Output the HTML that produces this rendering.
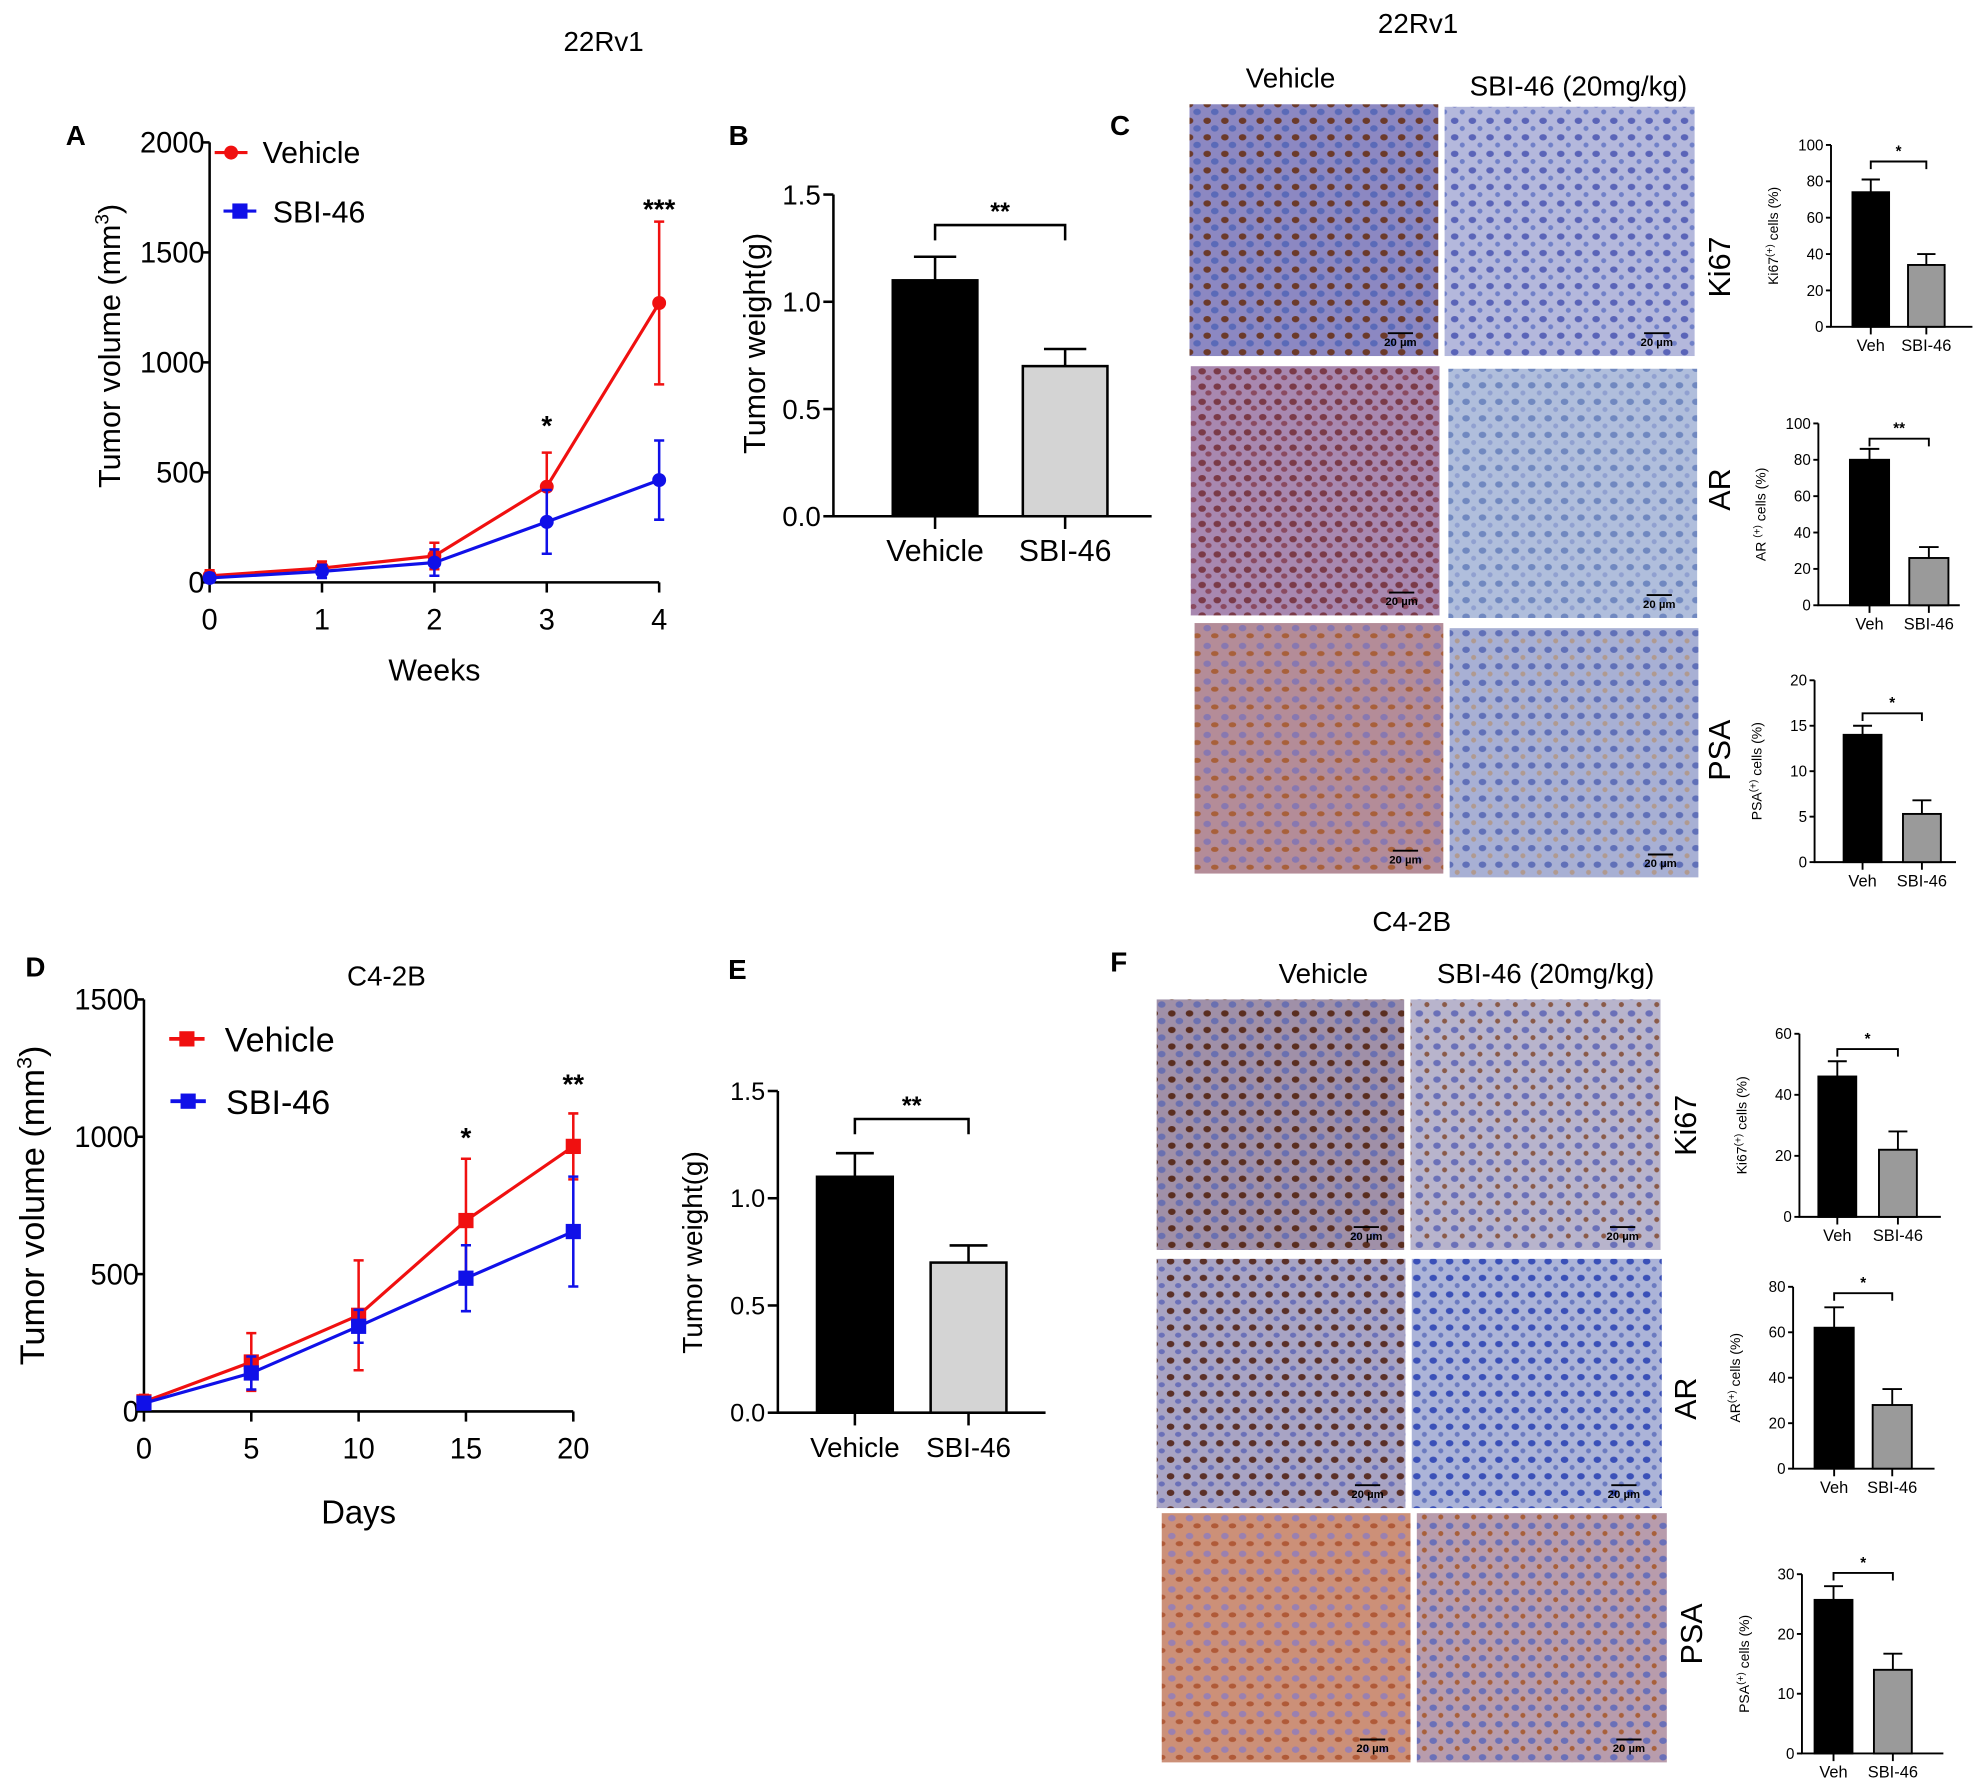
<!DOCTYPE html>
<html><head><meta charset="utf-8"><style>
html,body{margin:0;padding:0;background:#fff}
svg{display:block;font-family:"Liberation Sans",sans-serif}
</style></head><body>
<svg id="fig" width="1980" height="1784" viewBox="0 0 1568 1403" preserveAspectRatio="none" xmlns="http://www.w3.org/2000/svg">
<defs>
<pattern id="pKiV" width="14" height="13" patternUnits="userSpaceOnUse"><rect width="14" height="13" fill="#8c88c2"/><ellipse cx="4" cy="4" rx="3" ry="2.5" fill="#6b3a2a"/><ellipse cx="10" cy="10" rx="3" ry="2.5" fill="#5a6ab8"/></pattern>
<pattern id="pKiS" width="14" height="13" patternUnits="userSpaceOnUse"><rect width="14" height="13" fill="#b4b8dc"/><ellipse cx="4" cy="4" rx="3" ry="2.5" fill="#5a64b8"/><ellipse cx="10" cy="10" rx="2" ry="2" fill="#7080c8"/></pattern>
<pattern id="pArV" width="12" height="12" patternUnits="userSpaceOnUse"><rect width="12" height="12" fill="#a888b0"/><ellipse cx="4" cy="4" rx="3" ry="2.5" fill="#7a3a48"/><ellipse cx="9" cy="9" rx="2.5" ry="2" fill="#8a4a60"/></pattern>
<pattern id="pArS" width="13" height="13" patternUnits="userSpaceOnUse"><rect width="13" height="13" fill="#b0bedc"/><ellipse cx="4" cy="4" rx="3" ry="2.5" fill="#7088c0"/><ellipse cx="10" cy="10" rx="2" ry="2" fill="#90a0d0"/></pattern>
<pattern id="pPsV" width="14" height="14" patternUnits="userSpaceOnUse"><rect width="14" height="14" fill="#b48c98"/><ellipse cx="4" cy="4" rx="3" ry="2.5" fill="#8878b0"/><ellipse cx="10" cy="10" rx="3" ry="2" fill="#a8603a"/></pattern>
<pattern id="pPsS" width="13" height="13" patternUnits="userSpaceOnUse"><rect width="13" height="13" fill="#a8b0d4"/><ellipse cx="4" cy="4" rx="3" ry="2.5" fill="#6070b8"/><ellipse cx="10" cy="10" rx="2" ry="2" fill="#b09a90"/></pattern>
<pattern id="pKiV2" width="14" height="13" patternUnits="userSpaceOnUse"><rect width="14" height="13" fill="#a090a8"/><ellipse cx="4" cy="4" rx="3" ry="2.5" fill="#5a2e20"/><ellipse cx="10" cy="10" rx="3" ry="2.5" fill="#6a70b0"/></pattern>
<pattern id="pKiS2" width="14" height="13" patternUnits="userSpaceOnUse"><rect width="14" height="13" fill="#b8b4cc"/><ellipse cx="4" cy="4" rx="3" ry="2.5" fill="#6a70b8"/><ellipse cx="10" cy="10" rx="2" ry="2" fill="#8a5a48"/></pattern>
<pattern id="pArV2" width="13" height="13" patternUnits="userSpaceOnUse"><rect width="13" height="13" fill="#a8a4c4"/><ellipse cx="4" cy="4" rx="3" ry="2.5" fill="#5a3028"/><ellipse cx="10" cy="10" rx="2.5" ry="2" fill="#6a70b8"/></pattern>
<pattern id="pArS2" width="13" height="13" patternUnits="userSpaceOnUse"><rect width="13" height="13" fill="#acb4d8"/><ellipse cx="4" cy="4" rx="3" ry="2.5" fill="#3a50b8"/><ellipse cx="10" cy="10" rx="2" ry="2" fill="#6a7ac0"/></pattern>
<pattern id="pPsV2" width="14" height="14" patternUnits="userSpaceOnUse"><rect width="14" height="14" fill="#cc9078"/><ellipse cx="4" cy="4" rx="3" ry="2.5" fill="#9a80b0"/><ellipse cx="10" cy="10" rx="3" ry="2" fill="#b05a38"/></pattern>
<pattern id="pPsS2" width="13" height="13" patternUnits="userSpaceOnUse"><rect width="13" height="13" fill="#b89cac"/><ellipse cx="4" cy="4" rx="3" ry="2.5" fill="#6a70b8"/><ellipse cx="10" cy="10" rx="2" ry="2" fill="#a8603a"/></pattern>
</defs>
<g id="root"></g>
</svg>
<script>
// ---- Panel A data (22Rv1 tumor volume, weeks)
var weeksA = [0,1,2,3,4];
var vehA = [30,65,120,435,1270];
var vehAErr = [25,30,60,155,370];
var sbiA = [20,50,90,275,465];
var sbiAErr = [20,30,60,145,180];
var ticksAY = [0,500,1000,1500,2000];
// ---- Panel D data (C4-2B tumor volume, days)
var daysD = [0,5,10,15,20];
var vehD = [35,180,350,695,965];
var vehDErr = [25,105,200,225,120];
var sbiD = [30,140,310,485,655];
var sbiDErr = [20,60,60,120,200];
var ticksDY = [0,500,1000,1500];
// ---- Tumor weight bars
var weightCats = ["Vehicle","SBI-46"];
var weightB = [1.10,0.70];
var weightBErr = [0.11,0.08];
var weightE = [1.10,0.70];
var weightEErr = [0.11,0.08];
var ticksW = [0,0.5,1.0,1.5];
// ---- IHC quantification bars
var smallCats = ["Veh","SBI-46"];
var ki67C = [74,34], ki67CErr = [7,6];
var arC = [80,26], arCErr = [6,6];
var psaC = [14,5.3], psaCErr = [1,1.5];
var ki67F = [46,22], ki67FErr = [5,6];
var arF = [62,28], arFErr = [9,7];
var psaF = [25.7,14], psaFErr = [2.3,2.7];

var NS="http://www.w3.org/2000/svg";
var root=document.getElementById('root');
function mk(tag,attrs,parent,txt){var e=document.createElementNS(NS,tag);for(var k in attrs)e.setAttribute(k,attrs[k]);if(txt!==undefined)e.textContent=txt;(parent||root).appendChild(e);return e;}
function lin(d0,d1,r0,r1){return function(v){return r0+(v-d0)*(r1-r0)/(d1-d0);};}

function text(x,y,s,size,name,extra){
  var a={x:x,y:y,'font-size':size,'text-anchor':'middle',fill:'#000'};
  for(var k in extra)a[k]=extra[k];
  var t=mk('text',a,root,s);
  
  
  return t;
}

function lineChart(o){
  var g=mk('g',{});
  
  
  var X=lin(o.xd[0],o.xd[1],o.x0,o.x1), Y=lin(0,o.ymax,o.y0,o.y1);
  var ax=mk('path',{d:'M'+o.x0+' '+o.y1+' V'+o.y0+' H'+X(o.xs[o.xs.length-1]),stroke:'#000','stroke-width':2,fill:'none'},g);
  
  
  o.yt.forEach(function(v){
    mk('line',{x1:o.x0-6,x2:o.x0,y1:Y(v),y2:Y(v),stroke:'#000','stroke-width':2},g);
    var t=mk('text',{x:o.x0-4,y:Y(v)+8,'font-size':23,'text-anchor':'end'},g,String(v));
    
    
  });
  o.xs.forEach(function(v){
    mk('line',{x1:X(v),x2:X(v),y1:o.y0,y2:o.y0+8,stroke:'#000','stroke-width':2},g);
    var t=mk('text',{x:X(v),y:o.y0+37,'font-size':23,'text-anchor':'middle'},g,String(v));
    
    
  });
  o.series.forEach(function(s){
    var sg=mk('g',{},g);
    
    
    var d='';
    s.v.forEach(function(v,i){d+=(i?'L':'M')+X(o.xs[i])+' '+Y(v);});
    mk('path',{d:d,stroke:s.c,'stroke-width':2.5,fill:'none'},sg);
    s.v.forEach(function(v,i){
      var x=X(o.xs[i]);
      var eb=mk('path',{d:'M'+x+' '+Y(v-s.e[i])+' V'+Y(v+s.e[i])+' M'+(x-4)+' '+Y(v+s.e[i])+' h8 M'+(x-4)+' '+Y(v-s.e[i])+' h8',stroke:s.c,'stroke-width':2},sg);
      
      
      var m;
      if(o.square){m=mk('rect',{x:x-6,y:Y(v)-6,width:12,height:12,fill:s.c},sg);}
      else{m=mk('circle',{cx:x,cy:Y(v),r:5.5,fill:s.c},sg);}
      
      
    });
  });
  return {X:X,Y:Y};
}

function barChart(o){
  var g=mk('g',{});
  
  
  var Y=lin(0,o.ymax,o.y0,o.y1);
  var sw=o.sw||2;
  var ax=mk('path',{d:'M'+o.x0+' '+o.y1+' V'+o.y0+' H'+o.xEnd,stroke:'#000','stroke-width':sw,fill:'none'},g);
  
  
  o.yt.forEach(function(v){
    mk('line',{x1:o.x0-(o.tk||6),x2:o.x0,y1:Y(v),y2:Y(v),stroke:'#000','stroke-width':sw},g);
    var t=mk('text',{x:o.x0-(o.tk||6)-2,y:Y(v)+o.fs*0.35,'font-size':o.fs,'text-anchor':'end'},g,o.fmt?o.fmt(v):String(v));
    
    
  });
  var cols=['#000',o.c2];
  o.v.forEach(function(v,i){
    var l=o.bx[i], w=o.bw, cx=l+w/2;
    var e=mk('path',{d:'M'+cx+' '+Y(v)+' V'+Y(v+o.e[i])+' M'+(cx-w*0.25)+' '+Y(v+o.e[i])+' h'+(w*0.5),stroke:'#000','stroke-width':sw},g);
    
    
    var b=mk('rect',{x:l,y:Y(v),width:w,height:o.y0-Y(v),fill:cols[i],stroke:'#000','stroke-width':sw},g);
    
    
    mk('line',{x1:cx,x2:cx,y1:o.y0,y2:o.y0+(o.tk||6)+2,stroke:'#000','stroke-width':sw},g);
    var t=mk('text',{x:cx,y:o.y0+o.lblDy,'font-size':o.lfs,'text-anchor':'middle'},g,o.cats[i]);
    
    
  });
  var bx1=o.bx[0]+o.bw/2, bx2=o.bx[1]+o.bw/2;
  var br=mk('path',{d:'M'+bx1+' '+(o.brY+o.brH)+' V'+o.brY+' H'+bx2+' V'+(o.brY+o.brH),stroke:'#000','stroke-width':sw,fill:'none'},g);
  
  
  var st=mk('text',{x:(bx1+bx2)/2,y:o.brY-4,'font-size':o.sfs,'font-weight':'bold','text-anchor':'middle'},g,o.star);
  
  
  var yt=mk('text',{x:0,y:0,'font-size':o.tfs,'text-anchor':'middle',transform:'translate('+o.tx+','+o.ty+') rotate(-90)'},g);
  
  
  yt.innerHTML=o.title;
}

// ===== Panel A
text(478,40,'22Rv1',22,'panel-a-title');
text(60,114,'A',22,'panel-a-label',{'font-weight':'bold'});
var A=lineChart({name:'tumor-volume-22rv1-chart',x0:166,x1:522,xd:[0,4],xs:weeksA,y0:458,y1:112,ymax:2000,yt:ticksAY,square:false,
  series:[{name:'series-vehicle',v:vehA,e:vehAErr,c:'#f01010'},{name:'series-sbi46',v:sbiA,e:sbiAErr,c:'#1010e8'}]});
text(344,535,'Weeks',24,'x-axis-title');
var tA=text(0,0,'',24,'y-axis-title',{transform:'translate(95,272) rotate(-90)'});tA.innerHTML='Tumor volume (mm<tspan dy="-9" font-size="15">3</tspan><tspan dy="9">)</tspan>';
text(A.X(3),342,'*',22,'significance-week3',{'font-weight':'bold'});
text(A.X(4),172,'***',22,'significance-week4',{'font-weight':'bold'});
mk('line',{x1:170,x2:196,y1:120,y2:120,stroke:'#f01010','stroke-width':2.5});mk('circle',{cx:183,cy:120,r:5.5,fill:'#f01010'});
text(208,128,'Vehicle',24,'legend-vehicle',{'text-anchor':'start'});
mk('line',{x1:177,x2:203,y1:166,y2:166,stroke:'#1010e8','stroke-width':2.5});mk('rect',{x:184,y:160,width:12,height:12,fill:'#1010e8'});
text(216,175,'SBI-46',24,'legend-sbi46',{'text-anchor':'start'});

// ===== Panel B
text(585,114,'B',22,'panel-b-label',{'font-weight':'bold'});
barChart({name:'tumor-weight-22rv1-chart',x0:660,xEnd:912,y0:406,y1:153,ymax:1.5,yt:ticksW,fmt:function(v){return v.toFixed(1);},fs:22,
  cats:weightCats,v:weightB,e:weightBErr,bx:[707,810],bw:67,c2:'#d4d4d4',lblDy:35,lfs:24,tk:8,
  brY:177,brH:12,star:'**',sfs:20,title:'Tumor weight(g)',tfs:24,tx:606,ty:270});

// ===== Panel C
text(1123,26,'22Rv1',22,'panel-c-title');
text(887,106,'C',22,'panel-c-label',{'font-weight':'bold'});
text(1022,69,'Vehicle',22,'column-vehicle');
text(1250,75,'SBI-46 (20mg/kg)',22,'column-sbi46');
function img(x,y,w,h,p,name){var r=mk('rect',{x:x,y:y,width:w,height:h,fill:'url(#'+p+')'});
  text(x+w-30,y+h-8,'20 µm',9,'scale-bar-label',{'font-weight':'bold'});mk('line',{x1:x+w-40,x2:x+w-20,y1:y+h-18,y2:y+h-18,stroke:'#000','stroke-width':1.5});}
img(942,82,197,198,'pKiV','ihc-ki67-vehicle-22rv1');img(1144,84,198,196,'pKiS','ihc-ki67-sbi46-22rv1');
img(943,288,197,196,'pArV','ihc-ar-vehicle-22rv1');img(1147,290,197,196,'pArS','ihc-ar-sbi46-22rv1');
img(946,490,197,197,'pPsV','ihc-psa-vehicle-22rv1');img(1148,494,197,196,'pPsS','ihc-psa-sbi46-22rv1');
text(0,0,'Ki67',24,'row-label-ki67',{transform:'translate(1370,210) rotate(-90)'});
text(0,0,'AR',24,'row-label-ar',{transform:'translate(1370,385) rotate(-90)'});
text(0,0,'PSA',24,'row-label-psa',{transform:'translate(1370,590) rotate(-90)'});
function small(o){
  barChart({name:o.name,x0:o.x0,xEnd:o.x0+112,y0:o.y0,y1:o.y1,ymax:o.ymax,yt:o.yt,fs:12,cats:smallCats,v:o.v,e:o.e,bx:o.bx,bw:o.bw,c2:'#9a9a9a',
    lblDy:19,lfs:13,tk:4,sw:1.5,brY:o.brY,brH:6,star:o.star,sfs:12,title:o.title,tfs:11,tx:o.x0-42,ty:(o.y0+o.y1)/2});
}
small({name:'ki67-quant-22rv1',x0:1450,y0:257,y1:114,ymax:100,yt:[0,20,40,60,80,100],v:ki67C,e:ki67CErr,bx:[1467,1511],bw:29,brY:127,star:'*',title:'Ki67<tspan dy="-4" font-size="8">(+)</tspan><tspan dy="4"> cells (%)</tspan>'});
small({name:'ar-quant-22rv1',x0:1440,y0:476,y1:333,ymax:100,yt:[0,20,40,60,80,100],v:arC,e:arCErr,bx:[1465,1512],bw:31,brY:345,star:'**',title:'AR <tspan dy="-4" font-size="8">(+)</tspan><tspan dy="4"> cells (%)</tspan>'});
small({name:'psa-quant-22rv1',x0:1437,y0:678,y1:535,ymax:20,yt:[0,5,10,15,20],v:psaC,e:psaCErr,bx:[1460,1507],bw:30,brY:561,star:'*',title:'PSA<tspan dy="-4" font-size="8">(+)</tspan><tspan dy="4"> cells (%)</tspan>'});

// ===== Panel D
text(28,768,'D',22,'panel-d-label',{'font-weight':'bold'});
text(306,775,'C4-2B',22,'panel-d-title');
var D=lineChart({name:'tumor-volume-c42b-chart',x0:114,x1:454,xd:[0,20],xs:daysD,y0:1110,y1:786,ymax:1500,yt:ticksDY,square:true,
  series:[{name:'series-vehicle',v:vehD,e:vehDErr,c:'#f01010'},{name:'series-sbi46',v:sbiD,e:sbiDErr,c:'#1010e8'}]});
text(284,1198,'Days',26,'x-axis-title');
var tD=text(0,0,'',27,'y-axis-title',{transform:'translate(35,948) rotate(-90)'});tD.innerHTML='Tumor volume (mm<tspan dy="-10" font-size="17">3</tspan><tspan dy="10">)</tspan>';
text(D.X(15),902,'*',22,'significance-day15',{'font-weight':'bold'});
text(D.X(20),860,'**',22,'significance-day20',{'font-weight':'bold'});
mk('line',{x1:134,x2:162,y1:817,y2:817,stroke:'#f01010','stroke-width':3});mk('rect',{x:142,y:811,width:12,height:12,fill:'#f01010'});
text(178,827,'Vehicle',27,'legend-vehicle',{'text-anchor':'start'});
mk('line',{x1:135,x2:163,y1:866,y2:866,stroke:'#1010e8','stroke-width':3});mk('rect',{x:143,y:860,width:12,height:12,fill:'#1010e8'});
text(179,876,'SBI-46',27,'legend-sbi46',{'text-anchor':'start'});

// ===== Panel E
text(584,770,'E',22,'panel-e-label',{'font-weight':'bold'});
barChart({name:'tumor-weight-c42b-chart',x0:616,xEnd:828,y0:1111,y1:858,ymax:1.5,yt:ticksW,fmt:function(v){return v.toFixed(1);},fs:20,
  cats:weightCats,v:weightE,e:weightEErr,bx:[647,737],bw:60,c2:'#d4d4d4',lblDy:35,lfs:22,tk:8,
  brY:880,brH:12,star:'**',sfs:20,title:'Tumor weight(g)',tfs:22,tx:556,ty:985});

// ===== Panel F
text(1118,732,'C4-2B',22,'panel-f-title');
text(886,764,'F',22,'panel-f-label',{'font-weight':'bold'});
text(1048,773,'Vehicle',22,'column-vehicle');
text(1224,773,'SBI-46 (20mg/kg)',22,'column-sbi46');
img(916,786,196,197,'pKiV2','ihc-ki67-vehicle-c42b');img(1117,786,198,197,'pKiS2','ihc-ki67-sbi46-c42b');
img(916,990,197,196,'pArV2','ihc-ar-vehicle-c42b');img(1118,990,198,196,'pArS2','ihc-ar-sbi46-c42b');
img(920,1190,197,196,'pPsV2','ihc-psa-vehicle-c42b');img(1122,1190,198,196,'pPsS2','ihc-psa-sbi46-c42b');
text(0,0,'Ki67',24,'row-label-ki67',{transform:'translate(1343,885) rotate(-90)'});
text(0,0,'AR',24,'row-label-ar',{transform:'translate(1343,1100) rotate(-90)'});
text(0,0,'PSA',24,'row-label-psa',{transform:'translate(1348,1285) rotate(-90)'});
small({name:'ki67-quant-c42b',x0:1425,y0:957,y1:813,ymax:60,yt:[0,20,40,60],v:ki67F,e:ki67FErr,bx:[1440,1488],bw:30,brY:825,star:'*',title:'Ki67<tspan dy="-4" font-size="8">(+)</tspan><tspan dy="4"> cells (%)</tspan>'});
small({name:'ar-quant-c42b',x0:1420,y0:1155,y1:1012,ymax:80,yt:[0,20,40,60,80],v:arF,e:arFErr,bx:[1437,1483],bw:31,brY:1017,star:'*',title:'AR<tspan dy="-4" font-size="8">(+)</tspan><tspan dy="4"> cells (%)</tspan>'});
small({name:'psa-quant-c42b',x0:1427,y0:1379,y1:1238,ymax:30,yt:[0,10,20,30],v:psaF,e:psaFErr,bx:[1437,1484],bw:30,brY:1237,star:'*',title:'PSA<tspan dy="-4" font-size="8">(+)</tspan><tspan dy="4"> cells (%)</tspan>'});
</script>
</body></html>
